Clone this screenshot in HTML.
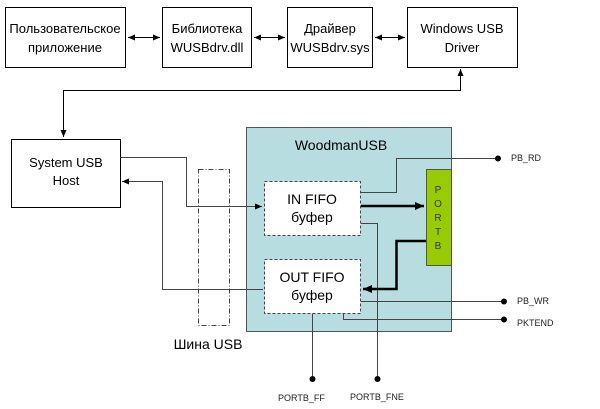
<!DOCTYPE html>
<html><head><meta charset="utf-8"><style>
html,body{margin:0;padding:0;background:#fff;}
svg{display:block;font-family:"Liberation Sans","DejaVu Sans",sans-serif;}
</style></head><body>
<svg width="600" height="409" viewBox="0 0 600 409" xmlns="http://www.w3.org/2000/svg">
<defs>
<marker id="a" markerWidth="8" markerHeight="8" refX="7" refY="4" orient="auto-start-reverse" markerUnits="userSpaceOnUse"><path d="M0,1 L7,4 L0,7 z" fill="#000"/></marker>
<marker id="b" markerWidth="10" markerHeight="10" refX="9" refY="5" orient="auto" markerUnits="userSpaceOnUse"><path d="M0,1 L9,5 L0,9 z" fill="#000"/></marker>
</defs>
<g fill="#fff" stroke="#000" stroke-width="1">
<rect x="5.5" y="7.5" width="120" height="60"/>
<rect x="162.5" y="7.5" width="89" height="60"/>
<rect x="287.5" y="7.5" width="85" height="60"/>
<rect x="407.5" y="7.5" width="110" height="60"/>
<rect x="11.5" y="139.5" width="109" height="68"/>
</g>
<g font-size="13" text-anchor="middle" fill="#000">
<text x="65" y="33">Пользовательское</text><text x="65" y="52">приложение</text>
<text x="207" y="33">Библиотека</text><text x="207" y="52">WUSBdrv.dll</text>
<text x="330" y="33">Драйвер</text><text x="330" y="52">WUSBdrv.sys</text>
<text x="462" y="33">Windows USB</text><text x="462" y="52">Driver</text>
<text x="66" y="167">System USB</text><text x="66" y="185">Host</text>
</g>
<g stroke="#000" stroke-width="1" fill="none">
<line x1="128" y1="37.5" x2="160" y2="37.5" marker-start="url(#a)" marker-end="url(#a)"/>
<line x1="254" y1="37.5" x2="285" y2="37.5" marker-start="url(#a)" marker-end="url(#a)"/>
<line x1="375" y1="37.5" x2="405" y2="37.5" marker-start="url(#a)" marker-end="url(#a)"/>
<polyline points="460.5,69 460.5,90.5 63.5,90.5 63.5,137" marker-start="url(#a)" marker-end="url(#a)"/>
</g>
<rect x="198.5" y="169.5" width="31" height="156" fill="none" stroke="#444" stroke-dasharray="5,2,1,2"/>
<rect x="246.5" y="127.5" width="205" height="204" fill="#b8dde0" stroke="#555"/>
<text x="341" y="150" font-size="14" text-anchor="middle">WoodmanUSB</text>
<rect x="426.5" y="169.5" width="25" height="96" fill="#99cc00" stroke="#555"/>
<g font-size="10" text-anchor="middle" fill="#333">
<text x="438" y="193">P</text><text x="438" y="207">O</text><text x="438" y="221">R</text><text x="438" y="235">T</text><text x="438" y="249">B</text>
</g>
<g stroke="#444" stroke-width="1" fill="none">
<polyline points="120,157.5 186.5,157.5 186.5,206.5 262,206.5" marker-end="url(#a)"/>
<polyline points="263,289.5 162.5,289.5 162.5,181.5 122,181.5" marker-end="url(#a)"/>
<polyline points="361,192.5 396.5,192.5 396.5,158.5 498,158.5"/>
<polyline points="361,223.5 377.5,223.5 377.5,379"/>
<line x1="312.5" y1="313" x2="312.5" y2="379"/>
<line x1="361" y1="301.5" x2="504" y2="301.5"/>
<polyline points="343.5,313 343.5,319.5 504,319.5"/>
</g>
<line x1="361" y1="206" x2="424" y2="206" stroke="#000" stroke-width="2.5" marker-end="url(#b)"/>
<polyline points="426,241 396.5,241 396.5,289 363,289" fill="none" stroke="#000" stroke-width="2.5" marker-end="url(#b)"/>
<rect x="264.5" y="181.5" width="96" height="54" fill="#fff" stroke="#444" stroke-dasharray="3,2"/>
<rect x="264.5" y="259.5" width="96" height="54" fill="#fff" stroke="#444" stroke-dasharray="3,2"/>
<g font-size="14" text-anchor="middle">
<text x="312" y="204">IN FIFO</text><text x="312" y="222">буфер</text>
<text x="312" y="282">OUT FIFO</text><text x="312" y="300">буфер</text>
<text x="208" y="349">Шина USB</text>
</g>
<g fill="#000">
<circle cx="498" cy="158.5" r="3"/><circle cx="504" cy="301.5" r="3"/><circle cx="504" cy="319.5" r="3"/>
<circle cx="312.5" cy="379" r="3"/><circle cx="377.5" cy="379" r="3"/>
</g>
<g font-size="9" fill="#222">
<text x="511" y="161">PB_RD</text><text x="517" y="304">PB_WR</text><text x="517" y="326">PKTEND</text>
<text x="278" y="401">PORTB_FF</text><text x="350" y="400">PORTB_FNE</text>
</g>
</svg>
</body></html>
